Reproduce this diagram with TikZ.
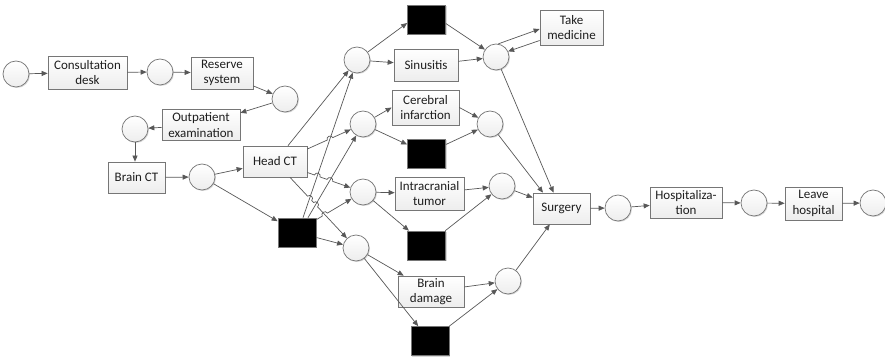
\documentclass[tikz,border=0pt]{standalone}
\usepackage{fontspec}
\setmainfont{Carlito}
\usetikzlibrary{arrows.meta,shadows,intersections,calc}
\definecolor{edge}{RGB}{88,88,88}
\definecolor{rim}{RGB}{118,118,118}
\definecolor{ink}{RGB}{30,30,30}

\begin{document}
\begin{tikzpicture}[x=1pt,y=-1pt,
  every node/.style={font=\fontsize{13}{15.5}\selectfont, text=ink},
  soft/.style={drop shadow={shadow xshift=1pt, shadow yshift=-1pt, opacity=0.3}},
  place/.style={circle, draw=rim, line width=0.7pt, minimum size=26pt, inner sep=0pt,
    top color=white, bottom color=gray!14, soft},
  trans/.style={rectangle, draw=rim, line width=0.7pt, inner sep=0pt, align=center,
    top color=white, bottom color=gray!14, soft},
  silent/.style={rectangle, draw=rim, line width=0.7pt, fill=black, inner sep=0pt,
    minimum width=38pt, minimum height=29pt, soft},
  arr/.style={draw=edge, line width=0.7pt, -{Triangle[length=6pt,width=5pt]}},
  hop/.style={bend left=90, looseness=1.6}
]
\fill[white] (0,0) rectangle (885,358);
\useasboundingbox (0,0) rectangle (885,358);

% places
\node[place] (p0)  at (16,74) {};
\node[place] (p1)  at (160,72) {};
\node[place] (p2)  at (285,99) {};
\node[place] (p3)  at (135,129) {};
\node[place] (p4)  at (202,177) {};
\node[place] (p5)  at (357,60) {};
\node[place] (p6)  at (496,57) {};
\node[place] (p7)  at (363,124) {};
\node[place] (p8)  at (490,124) {};
\node[place] (p9)  at (363,192) {};
\node[place] (p10) at (502,186) {};
\node[place] (p11) at (356,248) {};
\node[place] (p12) at (508,281) {};
\node[place] (p13) at (618,208) {};
\node[place] (p14) at (754,203) {};
\node[place] (p15) at (873,203) {};

% labelled transitions
\node[trans, minimum width=79pt, minimum height=33pt] (cd)   at (87.5,72.5)  {Consultation\\desk};
\node[trans, minimum width=62pt, minimum height=32pt] (rs)   at (222,73)     {Reserve\\system};
\node[trans, minimum width=78pt, minimum height=31pt] (oe)   at (201,125)    {Outpatient\\examination};
\node[trans, minimum width=57pt, minimum height=31pt] (bct)  at (136.5,177.5){Brain CT};
\node[trans, minimum width=64pt, minimum height=31pt] (hct)  at (275,161.5)  {Head CT};
\node[trans, minimum width=64pt, minimum height=32pt] (sin)  at (426,65)     {Sinusitis};
\node[trans, minimum width=63pt, minimum height=35pt] (tm)   at (571.5,27.5) {Take\\medicine};
\node[trans, minimum width=67pt, minimum height=35pt] (ci)   at (425.5,107.5){Cerebral\\infarction};
\node[trans, minimum width=69pt, minimum height=33pt] (it)   at (429.5,193.5){Intracranial\\tumor};
\node[trans, minimum width=66pt, minimum height=31pt] (bd)   at (431,291.5)  {Brain\\damage};
\node[trans, minimum width=57pt, minimum height=31pt] (surg) at (561.5,208.5){Surgery};
\node[trans, minimum width=72pt, minimum height=31pt] (hosp) at (686,202.5)  {Hospitaliza-\\tion};
\node[trans, minimum width=57pt, minimum height=33pt] (lh)   at (813.5,203.5){Leave\\hospital};

% silent transitions
\node[silent] (b0) at (426.5,19.5) {};
\node[silent] (b1) at (297,232.5) {};
\node[silent] (b2) at (426.5,153.5) {};
\node[silent] (b3) at (426.5,245.5) {};
\node[silent] (b4) at (430,341) {};

% main line
\draw[arr] (p0) -- (cd);
\draw[arr] (cd) -- (p1);
\draw[arr] (p1) -- (rs);
\draw[arr] (rs) -- (p2);
\draw[arr] (p2) -- (oe);
\draw[arr] (oe) -- (p3);
\draw[arr] (p3.south) -- (p3.south |- bct.north);
\draw[arr] (bct) -- (p4);
\draw[arr] (p4) -- (hct);
\draw[arr] (p4) -- (b1);

% fan-out from Head CT and the silent step
\coordinate (h5s)  at ([xshift=13pt]hct.north);
\coordinate (h7s)  at ([yshift=12.5pt]hct.east);
\coordinate (h9s)  at ([yshift=-11pt]hct.east);
\coordinate (h11s) at ([xshift=15pt]hct.south);
\coordinate (b5s)  at ([xshift=6pt]b1.north);
\coordinate (b7s)  at ([xshift=11pt]b1.north);
\coordinate (b9s)  at ([yshift=-2pt]b1.north east);
\coordinate (b11s) at ([yshift=-5pt]b1.east);

\draw[arr] (h5s) -- (p5);
\draw[arr, name path=b15] (b5s) -- (p5);
\draw[arr, name path=b17] (b7s) -- (p7);
\draw[arr] (b11s) -- (p11);

\path[name path=h7]  (h7s) -- (p7);
\path[name path=h9]  (h9s) -- (p9);
\path[name path=h11] (h11s) -- (p11);
\path[name path=b19] (b9s) -- (p9);
\path[name intersections={of=h7 and b15, by=xa}];
\path[name intersections={of=h9 and b15, by=xb}];
\path[name intersections={of=h9 and b17, by=xc}];
\path[name intersections={of=h11 and b15, by=xd}];
\path[name intersections={of=h11 and b17, by=xe}];
\path[name intersections={of=b19 and h11, by=xf}];

\draw[arr] (h7s) -- ($(xa)!3pt!(h7s)$) to[hop] ($(xa)!3pt!(p7)$) -- (p7);
\draw[arr] (h9s) -- ($(xb)!3pt!(h9s)$) to[hop] ($(xb)!3pt!(p9)$)
  -- ($(xc)!3pt!(h9s)$) to[hop] ($(xc)!3pt!(p9)$) -- (p9);
\draw[arr] (h11s) -- ($(xd)!3pt!(h11s)$) to[hop] ($(xd)!3pt!(p11)$)
  -- ($(xe)!3pt!(h11s)$) to[hop] ($(xe)!3pt!(p11)$) -- (p11);
\draw[arr] (b9s) -- ($(xf)!3pt!(b9s)$) to[hop] ($(xf)!3pt!(p9)$) -- (p9);

% sinusitis branch
\draw[arr] (p5) -- ([yshift=-3.5pt]b0.west);
\draw[arr] (p5) -- (sin);
\draw[arr] ([yshift=-4pt]b0.east) -- (p6);
\draw[arr] (sin) -- (p6);
\draw[arr] (p6.80) -- ([yshift=-1.5pt]tm.west);
\draw[arr] ([yshift=-13pt]tm.west) -- (p6.25);

% cerebral infarction branch
\draw[arr] (p7) -- (ci.west);
\draw[arr] (p7) -- ([yshift=9pt]b2.west);
\draw[arr] (ci.east) -- (p8);
\draw[arr] (b2) -- (p8);

% intracranial tumor branch
\draw[arr] (p9) -- (it);
\draw[arr] (p9) -- (b3);
\draw[arr] (it) -- (p10);
\draw[arr] (b3) -- (p10);

% brain damage branch
\draw[arr] (p11) -- (bd);
\draw[arr] (p11) -- (b4);
\draw[arr] (bd) -- (p12);
\draw[arr] (b4) -- (p12);

% join into surgery
\draw[arr] (p6) -- ([xshift=-8pt]surg.north);
\draw[arr] (p8) -- ([xshift=-18.5pt]surg.north);
\draw[arr] (p10) -- (surg);
\draw[arr] (p12) -- (surg);

% tail
\draw[arr] (surg) -- (p13);
\draw[arr] (p13) -- (hosp);
\draw[arr] (hosp) -- (p14);
\draw[arr] (p14) -- (lh);
\draw[arr] (lh) -- (p15);
\end{tikzpicture}
\end{document}
